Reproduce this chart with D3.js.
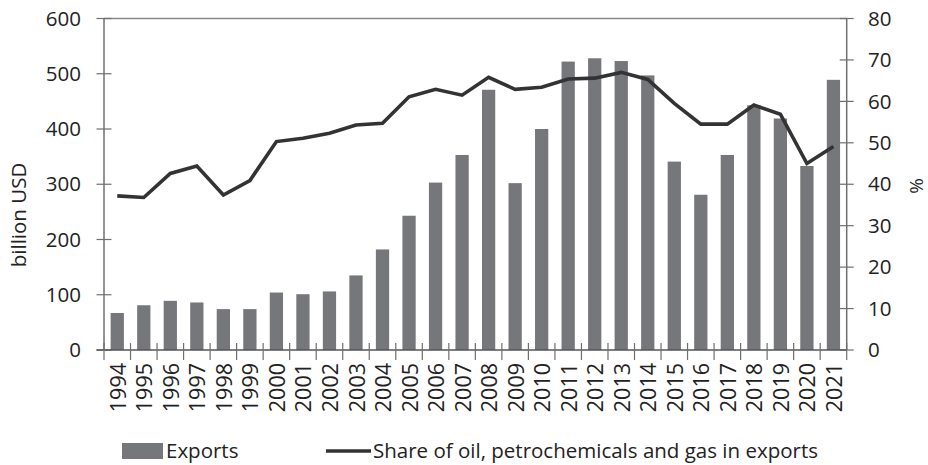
<!DOCTYPE html>
<html><head><meta charset="utf-8">
<script src="https://cdn.jsdelivr.net/npm/d3@7"></script>
<style>
body{margin:0;background:#fff;}
text{font-family:"Open Sans",sans-serif;fill:#222;}
</style></head>
<body><svg id="c" width="928" height="465"></svg>
<script>
const years = ["1994","1995","1996","1997","1998","1999","2000","2001","2002","2003","2004","2005","2006","2007","2008","2009","2010","2011","2012","2013","2014","2015","2016","2017","2018","2019","2020","2021"];
const exportsVals = [67,81,89,86,74,74,104,101,106,135,182,243,303,353,471,302,400,522,528,523,497,341,281,353,443,419,333,489];
const shareVals = [37.2,36.8,42.6,44.4,37.4,40.9,50.3,51.1,52.3,54.3,54.7,61.1,62.9,61.5,65.8,62.9,63.4,65.4,65.6,67.0,65.3,59.5,54.5,54.5,59.1,56.9,45.0,49.1];
const leftTicks = [0,100,200,300,400,500,600];
const rightTicks = [0,10,20,30,40,50,60,70,80];
const leftTitle = "billion USD";
const rightTitle = "%";
const legendLabels = ["Exports","Share of oil, petrochemicals and gas in exports"];

const svg = d3.select("#c");
const L = 104, R = 846.7, T = 18.5, B = 350;
const x = d3.scaleBand().domain(years).range([L, R]).paddingInner(0.5).paddingOuter(0.25);
const yL = d3.scaleLinear().domain([0,600]).range([B, T]);
const yR = d3.scaleLinear().domain([0,80]).range([B, T]);
const axisCol = "#6f6f6f";
const fs = "20.5px";

// bars
svg.append("g").selectAll("rect").data(exportsVals).join("rect")
  .attr("x", (d,i)=>x(years[i])).attr("width", x.bandwidth())
  .attr("y", d=>yL(d)).attr("height", d=>B-yL(d)).attr("fill","#76777b");

// top border
svg.append("line").attr("x1",L).attr("x2",R).attr("y1",T).attr("y2",T).attr("stroke","#8a8a8a").attr("stroke-width",1.3);

// left axis
const gl = svg.append("g");
gl.append("line").attr("x1",L).attr("x2",L).attr("y1",T).attr("y2",B).attr("stroke",axisCol).attr("stroke-width",1.5);
gl.selectAll("line.t").data(leftTicks).join("line").attr("class","t")
  .attr("x1",L-7.5).attr("x2",L+7.5).attr("y1",d=>yL(d)).attr("y2",d=>yL(d)).attr("stroke",axisCol).attr("stroke-width",1.2);
gl.selectAll("text").data(leftTicks).join("text")
  .attr("x",81).attr("y",d=>yL(d)).attr("dy","0.35em").attr("text-anchor","end").style("font-size",fs).text(d=>d);

// right axis
const gr = svg.append("g");
gr.append("line").attr("x1",R).attr("x2",R).attr("y1",T).attr("y2",B).attr("stroke",axisCol).attr("stroke-width",1.5);
gr.selectAll("line.t").data(rightTicks).join("line").attr("class","t")
  .attr("x1",R-7).attr("x2",R+7).attr("y1",d=>yR(d)).attr("y2",d=>yR(d)).attr("stroke",axisCol).attr("stroke-width",1.2);
gr.selectAll("text").data(rightTicks).join("text")
  .attr("x",868).attr("y",d=>yR(d)).attr("dy","0.35em").attr("text-anchor","start").style("font-size",fs).text(d=>d);

// bottom axis
const gb = svg.append("g");
gb.append("line").attr("x1",L-7.5).attr("x2",R).attr("y1",B).attr("y2",B).attr("stroke","#555").attr("stroke-width",1.5);
const step = x.step();
const bounds = d3.range(years.length+1).map(i=>L+i*step);
gb.selectAll("line.t").data(bounds).join("line").attr("class","t")
  .attr("x1",d=>d).attr("x2",d=>d).attr("y1",B-7).attr("y2",B+10).attr("stroke",axisCol).attr("stroke-width",1.2);
gb.selectAll("text").data(years).join("text")
  .attr("transform",d=>`translate(${x(d)+x.bandwidth()/2+1},363) rotate(-90)`)
  .attr("dy","0.35em").attr("text-anchor","end").style("font-size","21.5px").text(d=>d);

// line
const line = d3.line().x((d,i)=>x(years[i])+x.bandwidth()/2).y(d=>yR(d));
svg.append("path").datum(shareVals).attr("d",line).attr("fill","none")
  .attr("stroke","#333333").attr("stroke-width",3.6).attr("stroke-linejoin","miter");

// axis titles
svg.append("text").attr("transform","translate(19,215) rotate(-90)").attr("dy","0.35em")
  .attr("text-anchor","middle").style("font-size",fs).text(leftTitle);
svg.append("text").attr("transform","translate(916,186) rotate(-90)").attr("dy","0.35em")
  .attr("text-anchor","middle").style("font-size","19px").text(rightTitle);

// legend
const lg = svg.append("g");
lg.append("rect").attr("x",122).attr("y",443).attr("width",41).attr("height",16).attr("fill","#76777b");
lg.append("text").attr("x",166).attr("y",451).attr("dy","0.35em").style("font-size",fs).text(legendLabels[0]);
lg.append("line").attr("x1",326).attr("x2",371).attr("y1",451).attr("y2",451).attr("stroke","#333").attr("stroke-width",3.6);
lg.append("text").attr("x",373).attr("y",451).attr("dy","0.35em").style("font-size",fs).text(legendLabels[1]);
</script></body></html>
